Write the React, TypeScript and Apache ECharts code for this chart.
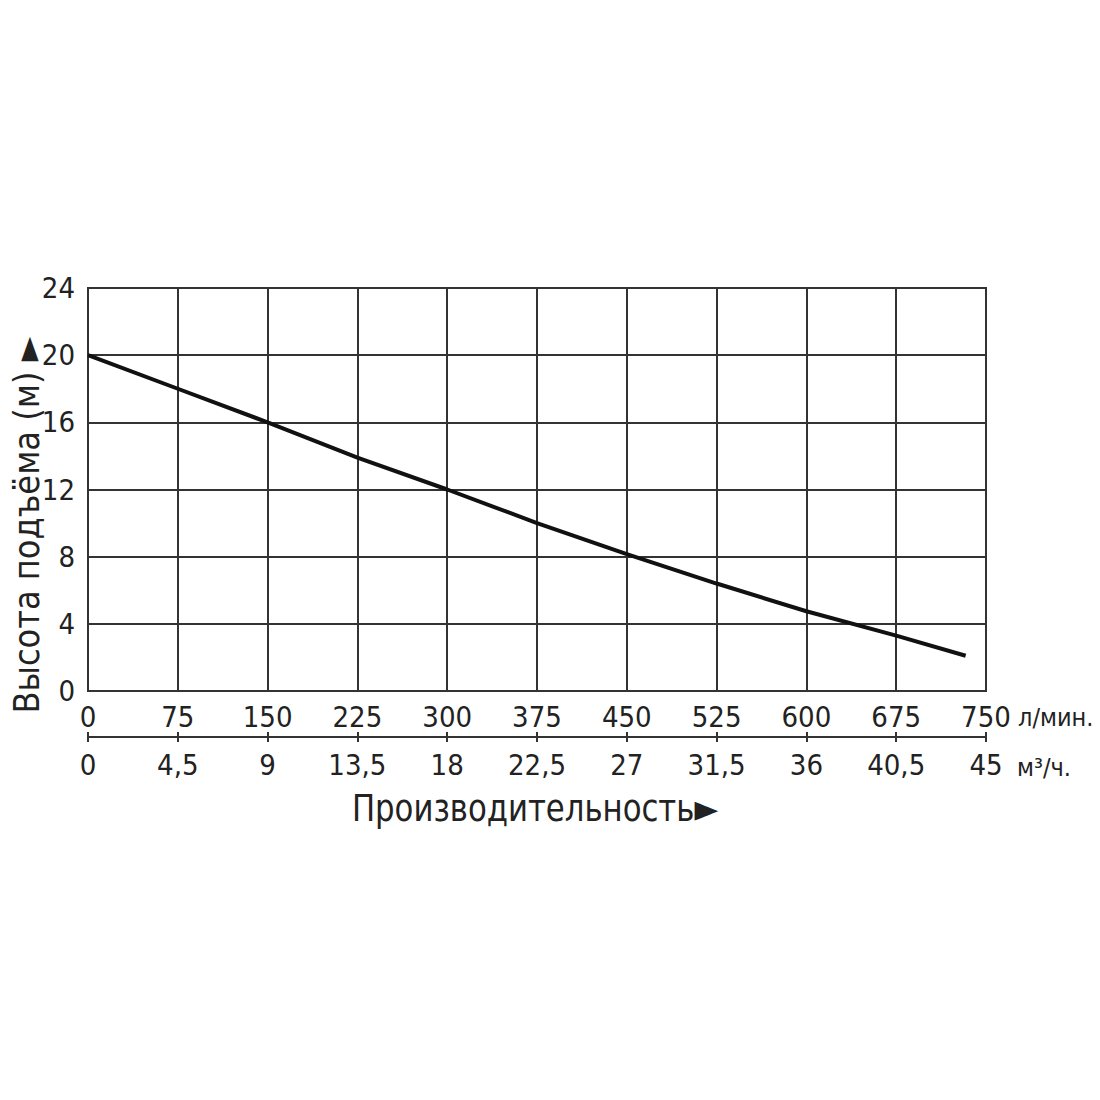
import React, { useEffect, useRef } from "react";
import * as echarts from "echarts";

const flowLpm = [0, 75, 150, 225, 300, 375, 450, 525, 600, 675, 733];
const headM = [20, 18, 16, 13.9, 12, 10, 8.15, 6.4, 4.75, 3.3, 2.1];
const yTicks = [0, 4, 8, 12, 16, 20, 24];
const yAxisTitle = "Высота подъёма (м) ►";
const xAxisTitle = "Производительность►";
const unitTop = "л/мин.";
const unitBottom = "м³/ч.";

const FONT = "'DejaVu Sans Condensed', 'DejaVu Sans', sans-serif";
const TXT = "#222";

export default function App() {
  const ref = useRef<HTMLDivElement>(null);
  useEffect(() => {
    if (!ref.current) return;
    const chart = echarts.init(ref.current, undefined, { renderer: "svg" });
    const labelStyle = { color: TXT, fontSize: 29, fontFamily: FONT };
    chart.setOption({
      animation: false,
      backgroundColor: "#fff",
      grid: {
        left: 80,
        top: 280,
        right: 122,
        bottom: 417,
        show: true,
        borderColor: "#333",
        borderWidth: 2,
      },
      xAxis: [
        {
          type: "value",
          min: 0,
          max: 750,
          interval: 75,
          position: "bottom",
          axisLine: { show: true, lineStyle: { color: "#333", width: 2 } },
          axisTick: { show: false },
          axisLabel: { ...labelStyle, margin: 11 },
          splitLine: { show: true, lineStyle: { color: "#333", width: 2 } },
        },
        {
          type: "value",
          min: 0,
          max: 45,
          interval: 4.5,
          position: "bottom",
          offset: 46,
          axisLine: { show: true, onZero: false, lineStyle: { color: "#333", width: 2 } },
          axisTick: { show: true, length: 5, lineStyle: { color: "#333", width: 2 } },
          axisLabel: {
            ...labelStyle,
            margin: 13,
            formatter: (v: number) => String(Math.round(v * 10) / 10).replace(".", ","),
          },
          splitLine: { show: false },
        },
        {
          type: "value",
          min: 0,
          max: 45,
          interval: 4.5,
          position: "bottom",
          offset: 46,
          axisLine: { show: false, onZero: false },
          axisTick: { show: true, inside: true, length: 5, lineStyle: { color: "#333", width: 2 } },
          axisLabel: { show: false },
          splitLine: { show: false },
        },
      ],
      yAxis: {
        type: "value",
        min: yTicks[0],
        max: yTicks[yTicks.length - 1],
        interval: 4,
        axisLine: { show: true, lineStyle: { color: "#333", width: 2 } },
        axisTick: { show: false },
        axisLabel: { ...labelStyle, margin: 13 },
        splitLine: { show: true, lineStyle: { color: "#333", width: 2 } },
      },
      series: [
        {
          type: "line",
          xAxisIndex: 0,
          data: flowLpm.map((x, i) => [x, headM[i]]),
          showSymbol: false,
          smooth: false,
          lineStyle: { color: "#111", width: 4 },
        },
      ],
      graphic: [
        {
          type: "text",
          x: 19,
          y: 517,
          rotation: Math.PI / 2,
          scaleX: 1.02,
          style: {
            text: yAxisTitle,
            fill: TXT,
            font: `35px ${FONT}`,
            align: "center",
            verticalAlign: "middle",
          },
        },
        {
          type: "text",
          x: 527,
          y: 800,
          scaleX: 0.9,
          style: {
            text: xAxisTitle,
            fill: TXT,
            font: `38px ${FONT}`,
            align: "center",
            verticalAlign: "middle",
          },
        },
        {
          type: "text",
          x: 1010,
          y: 709,
          style: { text: unitTop, fill: TXT, font: `25px ${FONT}`, verticalAlign: "middle" },
        },
        {
          type: "text",
          x: 1009,
          y: 759,
          style: { text: unitBottom, fill: TXT, font: `25px ${FONT}`, verticalAlign: "middle" },
        },
      ],
    });
    return () => chart.dispose();
  }, []);
  return <div ref={ref} style={{ width: 1100, height: 1100 }} />;
}
